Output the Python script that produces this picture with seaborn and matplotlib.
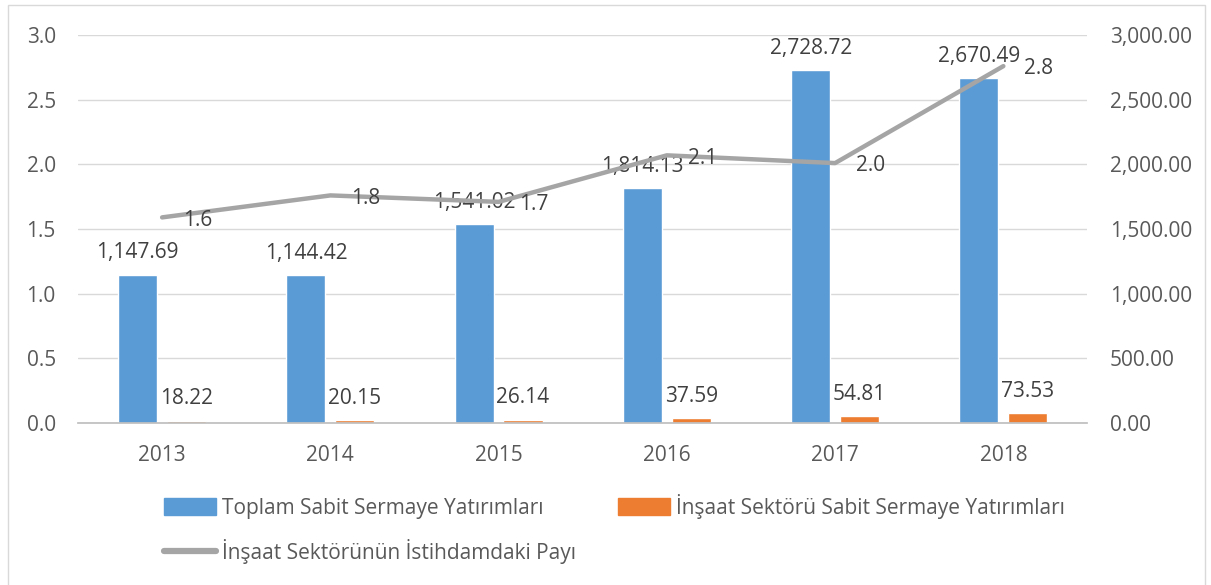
import numpy as np
import pandas as pd
import seaborn as sns
import matplotlib.pyplot as plt
from matplotlib.patches import Rectangle
from matplotlib.lines import Line2D
from matplotlib.patches import Patch

# data
years = ['2013', '2014', '2015', '2016', '2017', '2018']
toplam = [1147.69, 1144.42, 1541.02, 1814.13, 2728.72, 2670.49]
insaat = [18.22, 20.15, 26.14, 37.59, 54.81, 73.53]
istihdam_payi = [1.59, 1.76, 1.71, 2.07, 2.01, 2.76]

s_toplam = 'Toplam Sabit Sermaye Yatırımları'
s_insaat = 'İnşaat Sektörü Sabit Sermaye Yatırımları'
s_pay = 'İnşaat Sektörünün İstihdamdaki Payı'

blue = '#5B9BD5'
orange = '#ED7D31'
gray = '#A5A5A5'
txt = '#595959'
lbl = '#404040'

sns.set_theme(style='white')
plt.rcParams['font.family'] = ['Open Sans', 'DejaVu Sans']
fs = 15

df = pd.DataFrame({
    'year': years * 2,
    'value': toplam + insaat,
    'series': [s_toplam] * len(years) + [s_insaat] * len(years),
})

fig = plt.figure(figsize=(12.11, 5.85), dpi=100)
ax = fig.add_axes([0.0644, 0.277, 0.8336, 0.663])
ax2 = ax.twinx()  # line on top, its scale on the left

sns.barplot(data=df, x='year', y='value', hue='series', palette=[blue, orange],
            width=0.58, gap=0.2, saturation=1, errorbar=None, legend=False, ax=ax)
for c in ax.containers:
    ax.bar_label(c, fmt='{:,.2f}', padding=8, fontsize=fs, color=lbl)

ax.set_ylim(0, 3000)
ax.set_xlim(-0.5, len(years) - 0.5)
ax.set_yticks(np.arange(0, 3001, 500))
ax.set_yticklabels([f'{v:,.2f}' for v in np.arange(0, 3001, 500)])
ax.grid(axis='y', color='#D9D9D9', lw=1)
ax.set_axisbelow(True)
ax.set_xlabel('')
ax.set_ylabel('')
for side in ['top', 'left', 'right']:
    ax.spines[side].set_visible(False)
ax.spines['bottom'].set_color('#BFBFBF')

sns.lineplot(x=np.arange(len(years)), y=istihdam_payi, color=gray, linewidth=3.2,
             solid_capstyle='round', solid_joinstyle='round', ax=ax2)
for i, v in enumerate(istihdam_payi):
    ax2.annotate(f'{v:.1f}', (i, v), xytext=(15, -2), textcoords='offset points',
                 ha='left', va='center', fontsize=fs, color=lbl)
ax2.set_ylim(0, 3)
ax2.set_yticks(np.arange(0, 3.01, 0.5))
ax2.set_yticklabels([f'{v:.1f}' for v in np.arange(0, 3.01, 0.5)])
for side in ax2.spines:
    ax2.spines[side].set_visible(False)

ax.yaxis.tick_right()
ax2.yaxis.tick_left()
ax.tick_params(axis='both', length=0, labelsize=fs, labelcolor=txt, pad=16)
ax2.tick_params(axis='y', length=0, labelsize=fs, labelcolor=txt, pad=16)

handles = [Patch(color=blue), Line2D([], [], color=gray, lw=4.5), Patch(color=orange)]
labels = [s_toplam, s_pay, s_insaat]
fig.legend(handles, labels, loc='upper left', bbox_to_anchor=(164 / 1211, 1 - 494 / 585),
           ncol=2, frameon=False, fontsize=fs, labelcolor=txt, borderpad=0, borderaxespad=0,
           handlelength=2.5, handleheight=0.9, handletextpad=0.3, columnspacing=2.0,
           labelspacing=0.95)

fig.patches.append(Rectangle((0.0066, -0.02), 0.9884, 1.0115, transform=fig.transFigure,
                             fill=False, edgecolor='#D9D9D9', lw=1))

fig.savefig('out.png', dpi=100)
